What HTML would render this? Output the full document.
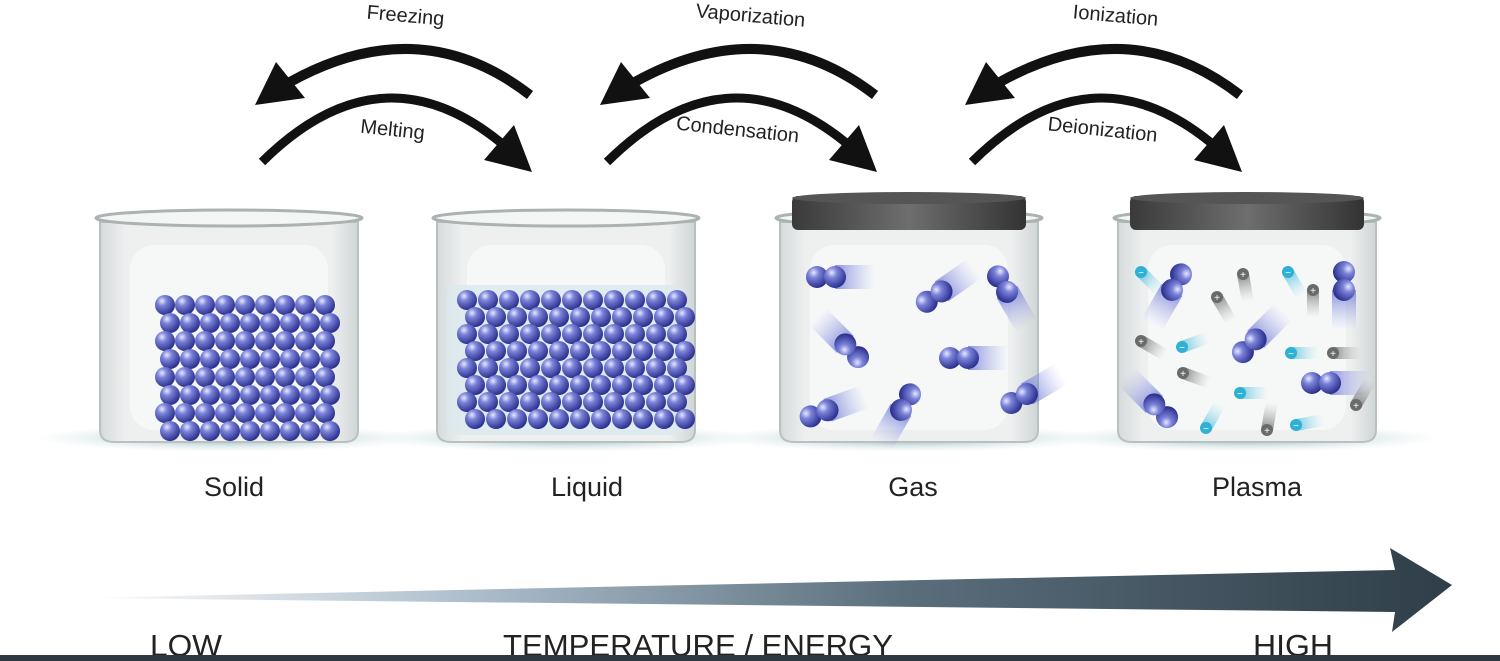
<!DOCTYPE html>
<html><head><meta charset="utf-8"><style>
html,body{margin:0;padding:0;background:#fff;}
svg{display:block;font-family:"Liberation Sans",sans-serif;}
</style></head><body>
<svg id="s" width="1500" height="661" viewBox="0 0 1500 661">
<defs>
<radialGradient id="ball" cx="0.35" cy="0.3" r="0.7"><stop offset="0" stop-color="#e6e9ff"/><stop offset="0.35" stop-color="#7b82d8"/><stop offset="1" stop-color="#2c328f"/></radialGradient>
<linearGradient id="trail" x1="0" x2="1"><stop offset="0" stop-color="#5a66d0" stop-opacity="0.7"/><stop offset="1" stop-color="#9aa4e8" stop-opacity="0"/></linearGradient>
<linearGradient id="ctrail" x1="0" x2="1"><stop offset="0" stop-color="#37b8d8" stop-opacity="0.7"/><stop offset="1" stop-color="#9ad8ea" stop-opacity="0"/></linearGradient>
<linearGradient id="gtrail" x1="0" x2="1"><stop offset="0" stop-color="#555" stop-opacity="0.7"/><stop offset="1" stop-color="#aaa" stop-opacity="0"/></linearGradient>
<linearGradient id="big" x1="0" x2="1"><stop offset="0" stop-color="#fff"/><stop offset="0.3" stop-color="#a8bac8"/><stop offset="0.6" stop-color="#5b6e7c"/><stop offset="1" stop-color="#2f3e48"/></linearGradient>
<linearGradient id="lid" x1="0" x2="1"><stop offset="0" stop-color="#3a3a3a"/><stop offset="0.5" stop-color="#6e6e6e"/><stop offset="1" stop-color="#333"/></linearGradient>
<linearGradient id="glass" x1="0" x2="1"><stop offset="0" stop-color="#d6dada"/><stop offset="0.1" stop-color="#eef0f0"/><stop offset="0.9" stop-color="#eef0f0"/><stop offset="1" stop-color="#cfd4d4"/></linearGradient>
<radialGradient id="shadow"><stop offset="0" stop-color="#7fa9ad"/><stop offset="1" stop-color="#cfe2e3" stop-opacity="0"/></radialGradient>
</defs>
<g id="beakers"></g>
<g id="arrows"></g>
<polygon points="80,598 1395,570 1390,548 1452,585 1392,632 1395,612" fill="url(#big)"/>
<text x="150" y="656" font-size="31" fill="#222" textLength="72" lengthAdjust="spacingAndGlyphs">LOW</text>
<text x="503" y="656" font-size="31" fill="#222" textLength="390" lengthAdjust="spacingAndGlyphs">TEMPERATURE / ENERGY</text>
<text x="1253" y="656" font-size="31" fill="#222" textLength="80" lengthAdjust="spacingAndGlyphs">HIGH</text>
<rect x="0" y="655" width="1500" height="6" fill="#2e3840"/>
</svg>
<script>
const NS='http://www.w3.org/2000/svg';
const states=['Solid','Liquid','Gas','Plasma'];
const beakerX=[100,437,780,1118];
const labelX=[234,587,913,1257];
const transitionsTop=['Freezing','Vaporization','Ionization'];
const transitionsBottom=['Melting','Condensation','Deionization'];
function mk(t,a,p){const e=document.createElementNS(NS,t);for(const k in a)e.setAttribute(k,a[k]);(p||document.getElementById('s')).appendChild(e);return e;}
const B=document.getElementById('beakers');
states.forEach((st,i)=>{
  const x=beakerX[i],w=258;
  const g=mk('g',{},B);
  
  
  mk('ellipse',{cx:x+w/2,cy:438,rx:w*0.75,ry:14,fill:'url(#shadow)'},g);
  mk('path',{d:`M${x} ${222} L${x} 430 Q${x} 442 ${x+14} 442 L${x+w-14} 442 Q${x+w} 442 ${x+w} 430 L${x+w} 222 Z`,fill:'url(#glass)',stroke:'#b9c0c0','stroke-width':2},g);
  mk('ellipse',{cx:x+w/2,cy:218,rx:w/2+4,ry:8,fill:'#f4f6f6',stroke:'#aab2b2','stroke-width':3},g);
  mk('rect',{x:x+30,y:245,width:w-60,height:185,rx:24,fill:'#f6f8f8'},g);
  if(i==1){mk('rect',{x:x+10,y:285,width:w-20,height:150,rx:10,fill:'#dbe9ee',opacity:0.8},g);}
  if(i>=2){
    mk('rect',{x:x+12,y:196,width:w-24,height:34,rx:6,fill:'url(#lid)'},g);
    mk('ellipse',{cx:x+w/2,cy:198,rx:w/2-12,ry:6,fill:'#555'},g);
  }
  const t=mk('text',{x:labelX[i],y:496,'font-size':27,fill:'#222','text-anchor':'middle'});
  t.textContent=st;
  
  
});
for(let r=0;r<8;r++)for(let c=0;c<9;c++){
  const b=mk('circle',{cx:165+c*20+(r%2)*5,cy:305+r*18,r:10,fill:'url(#ball)'},B);
  
}
for(let r=0;r<8;r++)for(let c=0;c<11;c++){
  const b=mk('circle',{cx:467+c*21+(r%2)*8,cy:300+r*17,r:10,fill:'url(#ball)'},B);
  
}
function mol(x,y,ang,p){
  const g=mk('g',{transform:`translate(${x},${y}) rotate(${ang})`},p);
  
  mk('rect',{x:8,y:-12,width:40,height:24,fill:'url(#trail)'},g);
  mk('circle',{cx:-10,cy:0,r:11,fill:'url(#ball)'},g);
  mk('circle',{cx:8,cy:0,r:11,fill:'url(#ball)'},g);
}
[[827,277,0],[935,296,-35],[1003,285,60],[851,350,225],[960,358,0],[820,413,-20],[905,403,120],[1020,398,-30]].forEach(m=>mol(m[0],m[1],m[2],B));
[[1176,283,120],[1344,282,90],[1250,345,-45],[1160,410,225],[1322,383,0]].forEach(m=>mol(m[0],m[1],m[2],B));
function ion(x,y,ang,neg){
  const g=mk('g',{transform:`translate(${x},${y}) rotate(${ang})`},B);
  
  mk('rect',{x:0,y:-6,width:28,height:12,fill:neg?'url(#ctrail)':'url(#gtrail)'},g);
  mk('circle',{cx:0,cy:0,r:6,fill:neg?'#2fb0d5':'#6a6a6a'},g);
  const t=mk('text',{x:0,y:4,'font-size':10,fill:'#fff','text-anchor':'middle',transform:`rotate(${-ang})`},g);t.textContent=neg?'−':'+';
}
[[1141,272,45,1],[1243,274,80,0],[1288,272,60,1],[1217,297,60,0],[1313,290,90,0],[1141,341,30,0],[1182,347,-20,1],[1291,353,0,1],[1333,353,0,0],[1183,373,20,0],[1240,393,0,1],[1356,405,-60,0],[1206,428,-60,1],[1267,430,-80,0],[1296,425,-10,1]].forEach(a=>ion(a[0],a[1],a[2],a[3]));
const A=document.getElementById('arrows');
const offs=[0,345,710];
offs.forEach((o,i)=>{
  const tg=mk('g',{},A);
  
  
  mk('path',{d:`M${530+o} 95 Q${420+o} 10 ${290+o} 82`,fill:'none',stroke:'#111','stroke-width':10},tg);
  mk('polygon',{points:`${255+o},105 ${276+o},62 ${305+o},98`,fill:'#111'},tg);
  const t1=mk('text',{x:405+o,y:22,'font-size':20,fill:'#222','text-anchor':'middle',transform:`rotate(5 ${405+o} 22)`});
  t1.textContent=transitionsTop[i];
  
  const bg=mk('g',{},A);
  
  
  mk('path',{d:`M${262+o} 162 Q${380+o} 45 ${500+o} 142}`.replace('}',''),fill:'none',stroke:'#111','stroke-width':9},bg);
  mk('polygon',{points:`${532+o},172 ${484+o},160 ${514+o},125`,fill:'#111'},bg);
  const t2=mk('text',{x:392+o,y:136,'font-size':20,fill:'#222','text-anchor':'middle',transform:`rotate(6 ${392+o} 136)`});
  t2.textContent=transitionsBottom[i];
  
});
</script>
</body></html>
